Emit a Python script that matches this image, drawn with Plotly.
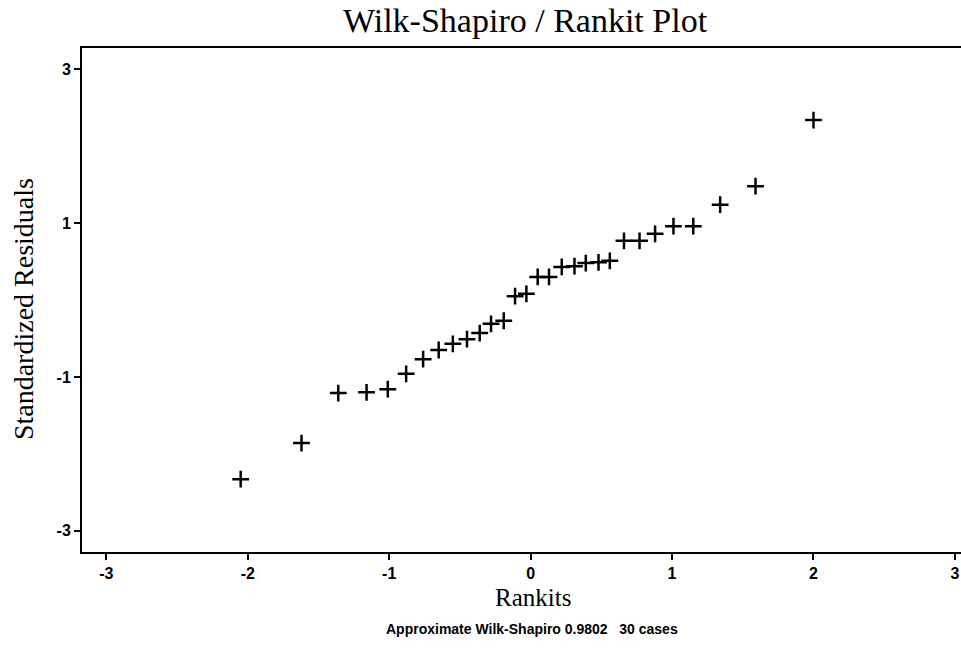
import plotly.graph_objects as go

# Normal probability (rankit) plot of standardized residuals, 30 cases
rankits = [-2.05, -1.62, -1.36, -1.16, -1.01, -0.88, -0.76, -0.65, -0.55, -0.45,
           -0.36, -0.28, -0.19, -0.11, -0.03, 0.05, 0.13, 0.22, 0.31, 0.39,
           0.48, 0.56, 0.66, 0.77, 0.88, 1.01, 1.15, 1.34, 1.59, 2.00]
residuals = [-2.33, -1.86, -1.21, -1.20, -1.16, -0.96, -0.77, -0.65, -0.57, -0.51,
             -0.43, -0.31, -0.27, 0.05, 0.08, 0.30, 0.30, 0.43, 0.44, 0.48,
             0.49, 0.51, 0.77, 0.77, 0.86, 0.96, 0.96, 1.24, 1.48, 2.34]

x_ticks = [-3, -2, -1, 0, 1, 2, 3]
x_tick_text = ["-3", "-2", "-1", "0", "1", "2", "3"]
y_ticks = [-3, -1, 1, 3]
y_tick_text = ["-3", "-1", "1", "3"]

title_text = "Wilk-Shapiro / Rankit Plot"
x_title = "Rankits"
y_title = "Standardized Residuals"
note_text = "Approximate Wilk-Shapiro 0.9802\u00a0\u00a0\u00a030 cases"

serif = "Liberation Serif, Times New Roman, serif"
sans = "Liberation Sans, Arial, sans-serif"

fig = go.Figure()
fig.add_trace(go.Scatter(
    x=rankits, y=residuals, mode="markers",
    marker=dict(symbol="cross-thin", size=12, line=dict(width=2.5, color="black"), color="black"),
    showlegend=False, hoverinfo="x+y",
))

axis_common = dict(
    showline=True, linecolor="black", linewidth=2,
    showgrid=False, zeroline=False,
    ticks="outside", ticklen=6, tickwidth=1.5, tickcolor="black",
    tickfont=dict(family=sans, size=16, color="black", weight="bold"),
)

fig.update_layout(
    width=961, height=659,
    margin=dict(l=82, r=0, t=48, b=107),
    paper_bgcolor="white", plot_bgcolor="white",
    xaxis=dict(range=[-3.172, 3.043], tickvals=x_ticks, ticktext=x_tick_text,
               mirror=True, **axis_common),
    yaxis=dict(range=[-3.277, 3.277], tickvals=y_ticks, ticktext=y_tick_text,
               **axis_common),
    annotations=[
        dict(text=title_text, xref="paper", yref="paper", x=0.505, y=1.0536,
             xanchor="center", yanchor="middle", showarrow=False,
             font=dict(family=serif, size=34, color="black")),
        dict(text=x_title, xref="paper", yref="paper", x=0.513, y=-0.0893,
             xanchor="center", yanchor="middle", showarrow=False,
             font=dict(family=serif, size=25, color="black")),
        dict(text=note_text, xref="paper", yref="paper", x=0.512, y=-0.1528,
             xanchor="center", yanchor="middle", showarrow=False,
             font=dict(family=sans, size=14, color="black", weight="bold")),
        dict(text=y_title, xref="paper", yref="paper", x=-0.0671, y=0.482,
             xanchor="center", yanchor="middle", showarrow=False, textangle=-90,
             font=dict(family=serif, size=28, color="black")),
    ],
)

fig.write_html("out.html")
